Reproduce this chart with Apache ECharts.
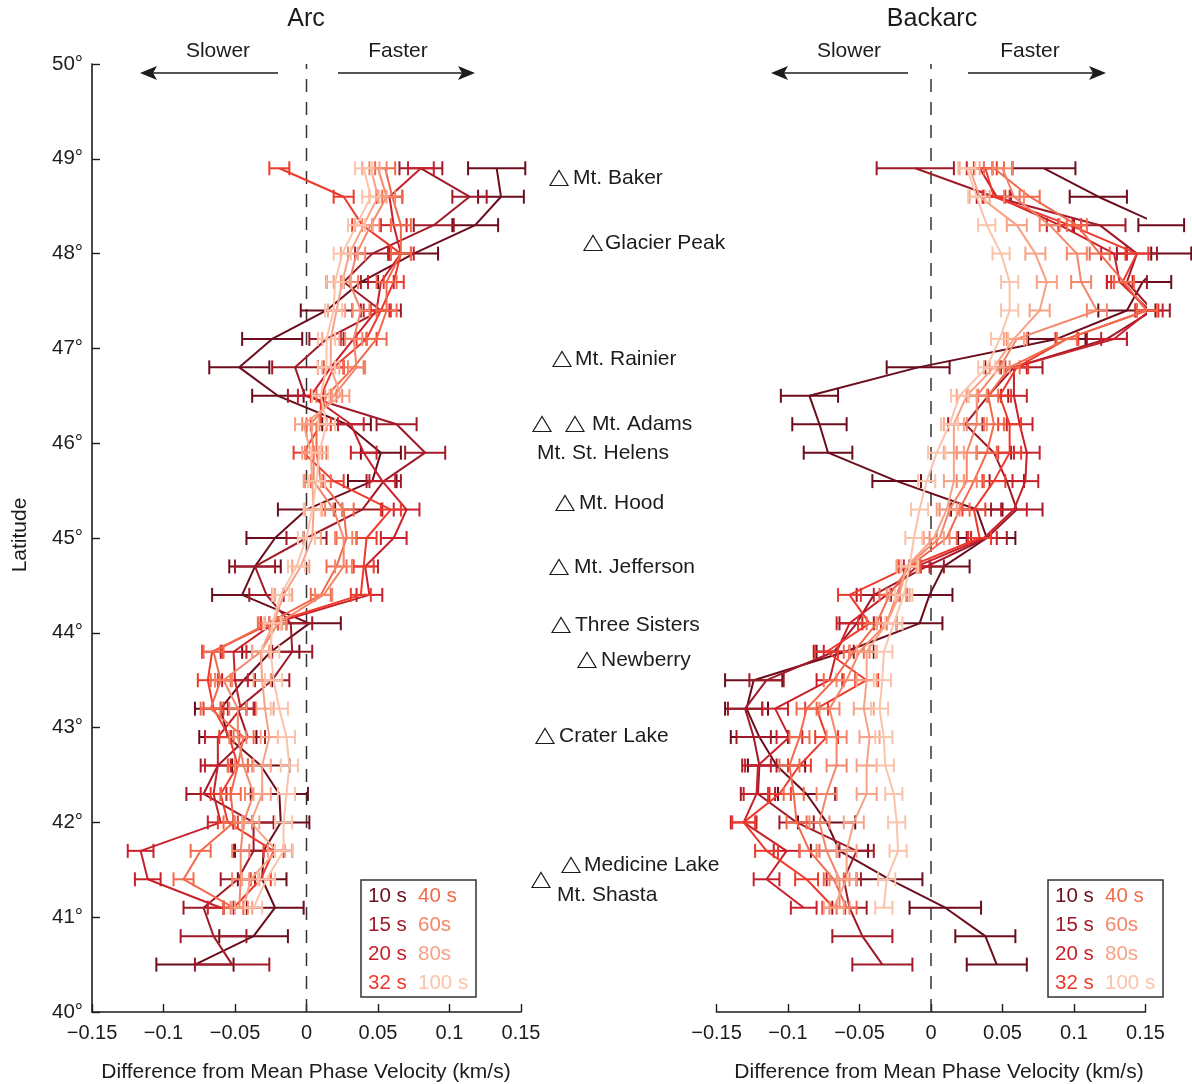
<!DOCTYPE html>
<html><head><meta charset="utf-8">
<script src="https://cdn.jsdelivr.net/npm/echarts/dist/echarts.min.js"></script>
<style>html,body{margin:0;padding:0;background:#fff}#c{width:1192px;height:1084px}</style>
</head><body><div id="c"></div>
<script>
// ---------------- DATA ----------------
const latitudes = [48.9, 48.6, 48.3, 48.0, 47.7, 47.4, 47.1, 46.8, 46.5, 46.2, 45.9, 45.6, 45.3, 45.0, 44.7, 44.4, 44.1, 43.8, 43.5, 43.2, 42.9, 42.6, 42.3, 42.0, 41.7, 41.4, 41.1, 40.8, 40.5];
const periods = ['10 s', '15 s', '20 s', '32 s', '40 s', '60s', '80s', '100 s'];
const xTicks = [-0.15, -0.1, -0.05, 0, 0.05, 0.1, 0.15];
const yTicks = [40, 41, 42, 43, 44, 45, 46, 47, 48, 49, 50];

// Arc panel (difference from mean phase velocity, km/s)
const arc10 = [0.133, 0.136, 0.118, 0.075, 0.038, 0.014, -0.024, -0.047, -0.020, 0.028, 0.052, 0.046, 0.000, -0.022, -0.036, -0.045, 0.002, -0.025, -0.044, -0.060, -0.055, -0.032, -0.019, -0.018, -0.030, -0.031, -0.022, -0.037, -0.078];
const arc15 = [0.080, 0.114, 0.089, 0.046, 0.026, 0.052, 0.014, -0.008, -0.001, 0.063, 0.083, 0.054, 0.039, 0.000, -0.036, -0.028, -0.011, -0.010, -0.024, -0.048, -0.041, -0.062, -0.072, -0.037, -0.037, -0.048, -0.072, -0.065, -0.052];
const arc20 = [0.080, 0.058, 0.061, 0.066, 0.052, 0.049, 0.033, 0.017, 0.003, 0.031, 0.040, 0.053, 0.070, 0.061, 0.041, 0.044, -0.023, -0.051, -0.050, -0.046, -0.062, -0.062, -0.065, -0.060, -0.116, -0.111, -0.060, null, null];
const arc32 = [-0.019, 0.026, 0.039, 0.066, 0.061, 0.052, 0.042, 0.019, 0.010, 0.010, -0.002, 0.019, 0.059, 0.042, 0.040, 0.038, -0.025, -0.066, -0.069, -0.065, -0.054, -0.048, -0.060, -0.055, -0.023, -0.032, -0.051, null, null];
const arc40 = [0.055, 0.060, 0.066, 0.066, 0.056, 0.056, 0.049, 0.033, 0.014, 0.007, 0.007, 0.010, 0.026, 0.028, 0.021, 0.010, -0.027, -0.065, -0.060, -0.067, -0.044, -0.048, -0.053, -0.051, -0.074, -0.086, -0.051, null, null];
const arc60 = [0.050, 0.056, 0.045, 0.035, 0.030, 0.038, 0.033, 0.035, 0.019, 0.003, 0.005, 0.005, 0.019, 0.026, 0.026, 0.012, -0.020, -0.032, -0.058, -0.048, -0.048, -0.044, -0.037, -0.044, -0.046, -0.046, -0.047, null, null];
const arc80 = [0.045, 0.050, 0.040, 0.030, 0.025, 0.021, 0.017, 0.017, 0.024, -0.002, 0.003, 0.004, 0.005, 0.004, -0.004, -0.016, -0.023, -0.032, -0.031, -0.029, -0.026, -0.031, -0.031, -0.039, -0.021, -0.039, -0.044, null, null];
const arc100 = [0.040, 0.045, 0.035, 0.025, 0.020, 0.019, 0.014, 0.014, 0.010, 0.014, 0.009, 0.007, 0.004, 0.000, -0.007, -0.018, -0.024, -0.025, -0.023, -0.019, -0.014, -0.012, -0.014, -0.016, -0.016, -0.028, -0.037, null, null];
const arcErr10 = [0.020, 0.016, 0.016, 0.017, 0.012, 0.018, 0.021, 0.021, 0.018, 0.017, 0.014, 0.017, 0.020, 0.020, 0.018, 0.021, 0.022, 0.020, 0.020, 0.018, 0.020, 0.020, 0.020, 0.020, 0.020, 0.017, 0.020, 0.024, 0.027];
const arcErr15 = [0.015, 0.012, 0.014, 0.012, 0.012, 0.014, 0.012, 0.016, 0.012, 0.014, 0.014, 0.012, 0.014, 0.014, 0.014, 0.012, 0.015, 0.014, 0.012, 0.012, 0.012, 0.012, 0.012, 0.014, 0.014, 0.012, 0.014, 0.023, 0.026];
const arcErrOther = [0.009, 0.007, 0.007, 0.006, 0.006, 0.006]; // 20 s .. 100 s

// Backarc panel
const bak10 = [0.079, 0.117, 0.161, 0.168, 0.148, 0.137, 0.088, -0.009, -0.085, -0.078, -0.072, -0.024, 0.032, 0.039, 0.009, -0.001, -0.008, -0.060, -0.124, -0.129, -0.120, -0.108, -0.087, -0.073, -0.064, -0.029, 0.010, 0.038, 0.046];
const bak15 = [-0.011, 0.044, 0.118, 0.144, 0.137, 0.155, 0.123, 0.058, 0.040, 0.024, 0.044, 0.053, 0.060, 0.039, -0.003, -0.040, -0.052, -0.068, -0.115, -0.130, -0.124, -0.120, -0.121, -0.094, -0.052, -0.061, -0.057, -0.048, -0.034];
const bak20 = [0.034, 0.046, 0.090, 0.128, 0.132, 0.153, 0.128, 0.058, 0.058, 0.062, 0.067, 0.066, 0.058, 0.037, -0.010, -0.031, -0.057, -0.066, -0.071, -0.109, -0.099, -0.121, -0.122, -0.131, -0.101, -0.115, -0.089, null, null];
const bak32 = [0.038, 0.044, 0.097, 0.144, 0.134, 0.151, 0.095, 0.060, 0.048, 0.055, 0.055, 0.044, 0.030, 0.034, -0.015, -0.057, -0.043, -0.073, -0.045, -0.080, -0.073, -0.092, -0.106, -0.131, -0.115, -0.087, -0.068, null, null];
const bak40 = [0.044, 0.069, 0.102, 0.118, 0.135, 0.151, 0.095, 0.055, 0.040, 0.044, 0.039, 0.030, 0.020, 0.011, -0.015, -0.029, -0.038, -0.054, -0.068, -0.087, -0.092, -0.099, -0.096, -0.094, -0.085, -0.068, -0.059, null, null];
const bak60 = [0.050, 0.058, 0.083, 0.102, 0.105, 0.116, 0.060, 0.048, 0.032, 0.032, 0.025, 0.025, 0.013, 0.006, -0.017, -0.024, -0.031, -0.050, -0.059, -0.071, -0.066, -0.066, -0.073, -0.078, -0.073, -0.064, -0.064, null, null];
const bak80 = [0.027, 0.034, 0.060, 0.073, 0.081, 0.076, 0.058, 0.044, 0.025, 0.016, 0.016, 0.016, 0.011, 0.002, -0.017, -0.022, -0.031, -0.045, -0.045, -0.047, -0.043, -0.045, -0.045, -0.054, -0.059, -0.059, -0.068, null, null];
const bak100 = [0.025, 0.032, 0.039, 0.049, 0.055, 0.055, 0.048, 0.039, 0.020, 0.013, 0.004, -0.003, -0.008, -0.012, -0.015, -0.019, -0.026, -0.033, -0.034, -0.036, -0.033, -0.032, -0.026, -0.024, -0.023, -0.031, -0.033, null, null];
const bakErr10 = [0.022, 0.020, 0.016, 0.014, 0.020, 0.020, 0.020, 0.022, 0.020, 0.019, 0.017, 0.017, 0.018, 0.020, 0.018, 0.016, 0.016, 0.020, 0.020, 0.015, 0.020, 0.020, 0.020, 0.020, 0.020, 0.023, 0.025, 0.021, 0.021];
const bakErr15 = [0.027, 0.012, 0.018, 0.014, 0.014, 0.012, 0.014, 0.020, 0.014, 0.012, 0.012, 0.012, 0.018, 0.014, 0.012, 0.012, 0.012, 0.014, 0.012, 0.012, 0.012, 0.012, 0.012, 0.012, 0.012, 0.012, 0.012, 0.021, 0.021];
const bakErrOther = [0.009, 0.008, 0.007, 0.007, 0.007, 0.006];

const volcanoes = ['Mt. Baker', 'Glacier Peak', 'Mt. Rainier', 'Mt. Adams', 'Mt. St. Helens', 'Mt. Hood', 'Mt. Jefferson', 'Three Sisters', 'Newberry', 'Crater Lake', 'Medicine Lake', 'Mt. Shasta'];

// ---------------- STYLE ----------------
const colors = ['#6b0d1c', '#a01a28', '#c8202c', '#ee3a2c', '#f26a4c', '#f4866a', '#f7a286', '#fbc3aa'];
const INK = '#1e1b1c';
const FONT = '"Liberation Sans", Arial, Helvetica, sans-serif';

const panels = [
  { vals: [arc10, arc15, arc20, arc32, arc40, arc60, arc80, arc100], e10: arcErr10, e15: arcErr15, eo: arcErrOther },
  { vals: [bak10, bak15, bak20, bak32, bak40, bak60, bak80, bak100], e10: bakErr10, e15: bakErr15, eo: bakErrOther }
];

const series = [];
panels.forEach((p, pi) => {
  // dashed zero line
  series.push({
    type: 'line', xAxisIndex: pi, yAxisIndex: pi, data: [[0, 40], [0, 50]],
    symbol: 'none', silent: true, z: 1,
    lineStyle: { color: '#333', width: 1.5, type: [13, 10] }
  });
  p.vals.forEach((vals, k) => {
    const errs = k === 0 ? p.e10 : (k === 1 ? p.e15 : null);
    const pts = [], bars = [];
    latitudes.forEach((lat, i) => {
      const v = vals[i];
      if (v === null || v === undefined) return;
      pts.push([v, lat]);
      bars.push([v, lat, errs ? errs[i] : p.eo[k - 2]]);
    });
    const col = colors[k];
    series.push({
      type: 'line', name: periods[k], xAxisIndex: pi, yAxisIndex: pi, data: pts,
      symbol: 'none', clip: false, silent: true, z: 2 + k,
      lineStyle: { color: col, width: 2 }
    });
    series.push({
      type: 'custom', xAxisIndex: pi, yAxisIndex: pi, data: bars, clip: false, silent: true, z: 2 + k,
      encode: { x: 0, y: 1 },
      renderItem: (params, api) => {
        const v = api.value(0), lat = api.value(1), e = api.value(2);
        const a = api.coord([v - e, lat]), b = api.coord([v + e, lat]);
        const h = 7;
        const st = { stroke: col, lineWidth: 2 };
        return {
          type: 'group', children: [
            { type: 'line', shape: { x1: a[0], y1: a[1], x2: b[0], y2: b[1] }, style: st },
            { type: 'line', shape: { x1: a[0], y1: a[1] - h, x2: a[0], y2: a[1] + h }, style: st },
            { type: 'line', shape: { x1: b[0], y1: b[1] - h, x2: b[0], y2: b[1] + h }, style: st }
          ]
        };
      }
    });
  });
});

function fmtX(v) {
  const r = Math.round(v * 100) / 100;
  return r < 0 ? '\u2212' + String(-r) : String(r);
}

const gridTop = 64, gridH = 948, gridW = 429;
const xAxisBase = (gi) => ({
  type: 'value', gridIndex: gi, min: xTicks[0], max: xTicks[xTicks.length - 1], interval: 0.05,
  axisLine: { show: true, onZero: false, lineStyle: { color: INK, width: 1.6 } },
  axisTick: { show: true, inside: true, length: 8, lineStyle: { color: INK, width: 1.4 } },
  axisLabel: { formatter: fmtX, color: INK, fontSize: 20, fontFamily: FONT, margin: 11 },
  splitLine: { show: false }
});

// ---------------- ANNOTATIONS ----------------
const graphics = [];
function txt(x, y, s, opts) {
  graphics.push({
    type: 'text', x: x, y: y,
    style: Object.assign({ text: s, fill: INK, font: '21px ' + FONT, textAlign: 'left', textVerticalAlign: 'middle' }, opts || {})
  });
}
function tri(xl, yc) {
  graphics.push({
    type: 'polygon', shape: { points: [[xl, yc + 7.5], [xl + 18, yc + 7.5], [xl + 9, yc - 7.5]] },
    style: { fill: 'none', stroke: INK, lineWidth: 1.2 }
  });
}
function arrow(x1, x2, y) {
  const dir = x2 > x1 ? 1 : -1;
  graphics.push({ type: 'line', shape: { x1: x1, y1: y, x2: x2 - dir * 10, y2: y }, style: { stroke: INK, lineWidth: 1.6 } });
  graphics.push({
    type: 'polygon',
    shape: { points: [[x2, y], [x2 - dir * 17, y - 7], [x2 - dir * 13, y], [x2 - dir * 17, y + 7]] },
    style: { fill: INK }
  });
}
// titles
txt(306, 19, 'Arc', { font: '25px ' + FONT, textAlign: 'center' });
txt(932, 19, 'Backarc', { font: '25px ' + FONT, textAlign: 'center' });
// slower / faster
txt(218, 51, 'Slower', { textAlign: 'center' });
txt(398, 51, 'Faster', { textAlign: 'center' });
txt(849, 51, 'Slower', { textAlign: 'center' });
txt(1030, 51, 'Faster', { textAlign: 'center' });
arrow(278, 140, 73);
arrow(338, 475, 73);
arrow(908, 771, 73);
arrow(968, 1106, 73);
// axis names
txt(306, 1072, 'Difference from Mean Phase Velocity (km/s)', { textAlign: 'center' });
txt(939, 1072, 'Difference from Mean Phase Velocity (km/s)', { textAlign: 'center' });
graphics.push({ type: 'text', x: 20, y: 535, rotation: Math.PI / 2,
  style: { text: 'Latitude', fill: INK, font: '21px ' + FONT, textAlign: 'center', textVerticalAlign: 'middle' } });
// volcano labels
tri(550, 178); txt(573, 178, volcanoes[0]);
tri(584, 243); txt(605, 243, volcanoes[1]);
tri(553, 359); txt(575, 359, volcanoes[2]);
tri(533, 424); tri(566, 424); txt(592, 424, volcanoes[3]);
txt(537, 453, volcanoes[4]);
tri(556, 503); txt(579, 503, volcanoes[5]);
tri(550, 567); txt(574, 567, volcanoes[6]);
tri(552, 625); txt(575, 625, volcanoes[7]);
tri(578, 660); txt(601, 660, volcanoes[8]);
tri(536, 736); txt(559, 736, volcanoes[9]);
tri(562, 865); txt(584, 865, volcanoes[10]);
tri(532, 880); txt(557, 895, volcanoes[11]);
// legends
[[361, 368, 418], [1048, 1055, 1105]].forEach(([bx, c1, c2]) => {
  graphics.push({ type: 'rect', shape: { x: bx, y: 880, width: 115, height: 117 },
    style: { fill: '#fff', stroke: '#333', lineWidth: 1.5 }, z: 50 });
  const rows = [896, 925, 954, 983];
  for (let k = 0; k < 8; k++) {
    graphics.push({ type: 'text', x: k < 4 ? c1 : c2, y: rows[k % 4], z: 51,
      style: { text: periods[k], fill: colors[k], font: '20.5px ' + FONT, textVerticalAlign: 'middle' } });
  }
});

const chart = echarts.init(document.getElementById('c'), null, { renderer: 'canvas' });
chart.setOption({
  animation: false,
  backgroundColor: '#fff',
  grid: [
    { left: 92, top: gridTop, width: gridW, height: gridH },
    { left: 716.5, top: gridTop, width: gridW, height: gridH }
  ],
  xAxis: [xAxisBase(0), xAxisBase(1)],
  yAxis: [
    { type: 'value', gridIndex: 0, min: yTicks[0], max: yTicks[yTicks.length - 1], interval: 1,
      axisLine: { show: true, onZero: false, lineStyle: { color: INK, width: 1.6 } },
      axisTick: { show: true, inside: true, length: 8, lineStyle: { color: INK, width: 1.4 } },
      axisLabel: { formatter: v => v + '°', color: INK, fontSize: 20.5, fontFamily: FONT, margin: 9 },
      splitLine: { show: false } },
    { type: 'value', gridIndex: 1, min: yTicks[0], max: yTicks[yTicks.length - 1], interval: 1, show: false,
      axisLine: { show: false, onZero: false }, splitLine: { show: false } }
  ],
  series: series,
  graphic: { elements: graphics }
});
</script></body></html>
